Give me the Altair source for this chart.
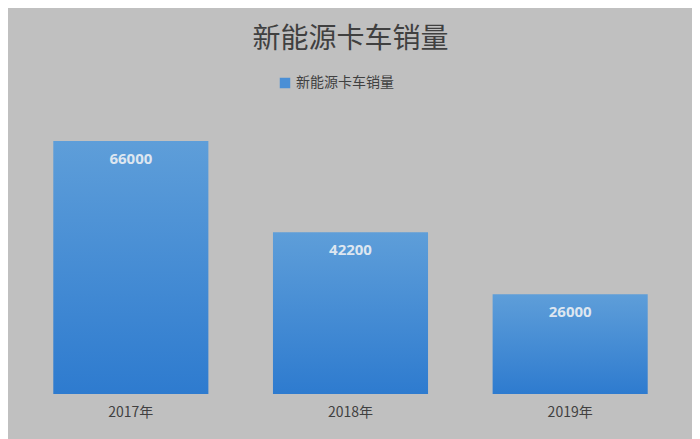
import altair as alt
import pandas as pd

years = ["2017年", "2018年", "2019年"]
sales = [66000, 42200, 26000]
series_name = "新能源卡车销量"
title_text = "新能源卡车销量"

df = pd.DataFrame({"year": years, "sales": sales, "series": [series_name] * len(years)})

FONT = "Noto Sans CJK SC"

x = alt.X(
    "year:N",
    sort=years,
    title=None,
    scale=alt.Scale(paddingInner=0.294, paddingOuter=0.147),
    axis=alt.Axis(
        labelAngle=0, labelFont=FONT, labelFontSize=14, labelColor="#404040",
        labelPadding=11, ticks=False, domain=False, grid=False,
    ),
)
y = alt.Y("sales:Q", scale=alt.Scale(domain=[0, 71200], nice=False, zero=True), axis=None)

grad = alt.Gradient(
    gradient="linear",
    stops=[alt.GradientStop(color="#5e9ed9", offset=0), alt.GradientStop(color="#2e7bcf", offset=1)],
    x1=0, x2=0, y1=0, y2=1,
)

bars = alt.Chart(df).mark_bar(color=grad).encode(x=x, y=y)

legend_layer = alt.Chart(df).mark_point(filled=True, shape="square", size=0, opacity=0).encode(
    x=x,
    y=y,
    color=alt.Color(
        "series:N",
        scale=alt.Scale(range=["#4a8fd6"]),
        legend=alt.Legend(
            title=None, orient="none", legendX=257, legendY=-45,
            symbolType="square", symbolSize=110, symbolOpacity=1, symbolStrokeWidth=0,
            labelFont=FONT, labelFontSize=14, labelColor="#404040",
        ),
    ),
)

labels = alt.Chart(df).mark_text(
    font="Open Sans", fontWeight="bold", fontSize=15, color="#dde6f0", dy=18, baseline="middle"
).encode(x=x, y=y, text=alt.Text("sales:Q", format="d"))

chart = (
    alt.layer(bars, legend_layer, labels)
    .properties(
        width=659,
        height=273,
        title=alt.TitleParams(
            title_text, font=FONT, fontSize=28, fontWeight="normal", color="#404040",
            anchor="middle", offset=22,
        ),
        padding={"left": 13, "top": 18, "right": 12, "bottom": 20},
        background="#c0c0c0",
    )
    .configure_view(stroke=None)
)

chart.save("out.html", embed_options={"renderer": "svg", "actions": False})
